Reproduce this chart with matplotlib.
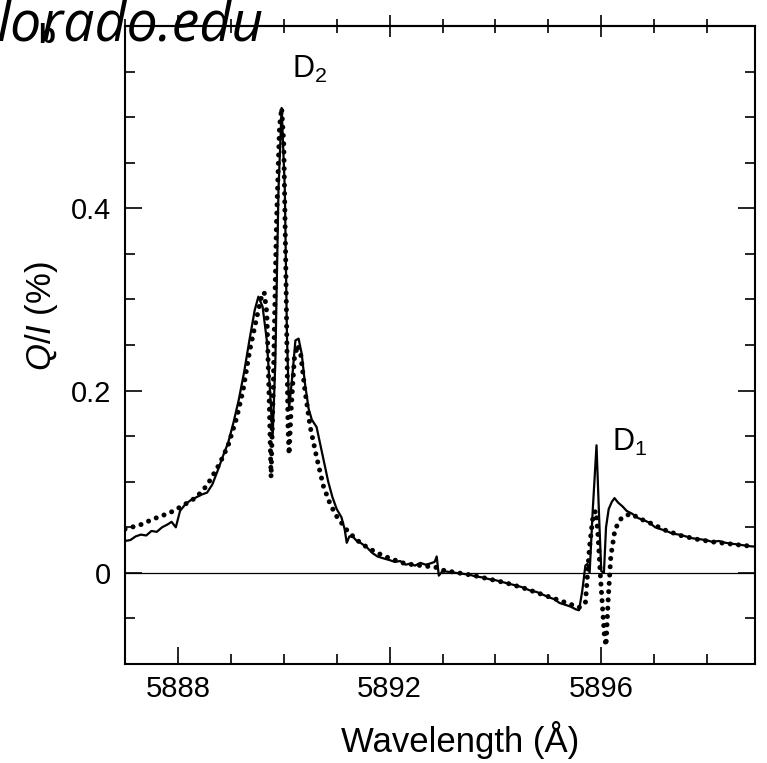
import numpy as np
import matplotlib
matplotlib.use("Agg")
import matplotlib.pyplot as plt

plt.rcParams['font.family'] = ['Liberation Sans', 'DejaVu Sans']
plt.rcParams['mathtext.fontset'] = 'custom'
plt.rcParams['mathtext.rm'] = 'Liberation Sans'
plt.rcParams['mathtext.it'] = 'Liberation Sans:italic'

# observed Q/I (solid)
obs_wl = [5887.00, 5887.10, 5887.20, 5887.30, 5887.40, 5887.50, 5887.60, 5887.70, 5887.80, 5887.88,
          5887.96, 5888.04, 5888.15, 5888.25, 5888.35, 5888.45, 5888.55, 5888.65, 5888.75, 5888.85,
          5888.95, 5889.05, 5889.15, 5889.25, 5889.35, 5889.45, 5889.52, 5889.60, 5889.68, 5889.74,
          5889.79, 5889.84, 5889.90, 5889.96, 5890.02, 5890.06, 5890.10, 5890.16, 5890.22, 5890.28,
          5890.34, 5890.40, 5890.47, 5890.53, 5890.62, 5890.74, 5890.84, 5890.92, 5891.00, 5891.09,
          5891.15, 5891.19, 5891.24, 5891.30, 5891.38, 5891.45, 5891.57, 5891.67, 5891.77, 5891.88,
          5892.00, 5892.10, 5892.20, 5892.30, 5892.38, 5892.48, 5892.58, 5892.68, 5892.75, 5892.85,
          5892.89, 5892.93, 5893.00, 5893.13, 5893.25, 5893.38, 5893.51, 5893.63, 5893.76, 5893.89,
          5894.00, 5894.13, 5894.26, 5894.40, 5894.52, 5894.64, 5894.78, 5894.90, 5895.02, 5895.12,
          5895.21, 5895.32, 5895.42, 5895.52, 5895.58, 5895.64, 5895.70, 5895.74, 5895.78, 5895.84,
          5895.91, 5895.96, 5896.00, 5896.05, 5896.09, 5896.14, 5896.20, 5896.25, 5896.32, 5896.40,
          5896.48, 5896.58, 5896.70, 5896.80, 5896.91, 5897.02, 5897.12, 5897.23, 5897.35, 5897.47,
          5897.60, 5897.72, 5897.85, 5897.98, 5898.10, 5898.22, 5898.35, 5898.47, 5898.60, 5898.72,
          5898.85, 5898.90]
obs_q = [0.035, 0.036, 0.040, 0.042, 0.041, 0.046, 0.045, 0.050, 0.053, 0.056,
         0.050, 0.068, 0.076, 0.080, 0.083, 0.086, 0.088, 0.097, 0.112, 0.128,
         0.143, 0.165, 0.190, 0.220, 0.255, 0.288, 0.303, 0.292, 0.255, 0.200,
         0.150, 0.230, 0.420, 0.510, 0.420, 0.260, 0.180, 0.215, 0.255, 0.257,
         0.240, 0.208, 0.180, 0.168, 0.160, 0.127, 0.100, 0.083, 0.070, 0.061,
         0.048, 0.033, 0.040, 0.040, 0.035, 0.033, 0.028, 0.022, 0.018, 0.016,
         0.014, 0.012, 0.013, 0.009, 0.010, 0.008, 0.011, 0.009, 0.010, 0.012,
         0.018, -0.003, 0.002, 0.001, 0.000, -0.001, -0.002, -0.004, -0.005, -0.007,
         -0.008, -0.010, -0.012, -0.014, -0.016, -0.019, -0.021, -0.024, -0.027, -0.029,
         -0.033, -0.035, -0.037, -0.040, -0.041, -0.020, 0.008, 0.010, 0.000, 0.070,
         0.140, 0.060, 0.002, 0.000, 0.050, 0.070, 0.078, 0.082, 0.077, 0.073,
         0.068, 0.065, 0.060, 0.058, 0.055, 0.050, 0.048, 0.046, 0.043, 0.042,
         0.040, 0.038, 0.037, 0.036, 0.034, 0.035, 0.033, 0.032, 0.031, 0.030,
         0.029, 0.029]

# model Q/I (dotted)
mod_wl = [5887.00, 5887.30, 5887.53, 5887.85, 5888.10, 5888.35, 5888.55, 5888.79, 5888.95, 5889.11,
          5889.23, 5889.36, 5889.50, 5889.58, 5889.63, 5889.68, 5889.72, 5889.76, 5889.80, 5889.86,
          5889.92, 5889.96, 5890.00, 5890.04, 5890.08, 5890.10, 5890.14, 5890.20, 5890.26, 5890.32,
          5890.40, 5890.50, 5890.62, 5890.75, 5890.88, 5891.00, 5891.19, 5891.38, 5891.60, 5891.80,
          5892.00, 5892.30, 5892.60, 5892.88, 5893.00, 5893.30, 5893.60, 5893.90, 5894.20, 5894.50,
          5894.80, 5895.10, 5895.40, 5895.58, 5895.70, 5895.78, 5895.85, 5895.90, 5895.94, 5895.98,
          5896.02, 5896.06, 5896.09, 5896.13, 5896.18, 5896.26, 5896.38, 5896.55, 5896.75, 5896.95,
          5897.20, 5897.50, 5897.80, 5898.10, 5898.40, 5898.70, 5898.90]
mod_q = [0.048, 0.053, 0.059, 0.066, 0.074, 0.083, 0.096, 0.120, 0.140, 0.170,
         0.200, 0.245, 0.283, 0.303, 0.308, 0.285, 0.200, 0.105, 0.200, 0.380,
         0.490, 0.510, 0.470, 0.330, 0.160, 0.130, 0.180, 0.235, 0.250, 0.240,
         0.200, 0.160, 0.127, 0.095, 0.075, 0.062, 0.047, 0.036, 0.027, 0.021,
         0.016, 0.010, 0.008, 0.006, 0.003, 0.000, -0.003, -0.007, -0.011, -0.016,
         -0.022, -0.028, -0.034, -0.038, -0.033, 0.030, 0.065, 0.068, 0.040, 0.000,
         -0.035, -0.070, -0.080, -0.030, 0.018, 0.048, 0.060, 0.065, 0.059, 0.054,
         0.047, 0.041, 0.037, 0.034, 0.032, 0.030, 0.029]

major_x = [5888, 5892, 5896]
major_y = [0, 0.2, 0.4]

fig = plt.figure(figsize=(7.67, 7.63), dpi=100)
ax = fig.add_axes([0.163, 0.1297, 0.821, 0.8363])

ax.axhline(0, color='black', lw=0.9)
ax.plot(obs_wl, obs_q, color='black', lw=1.6)
ax.plot(mod_wl, mod_q, color='black', lw=3.6, linestyle=(0, (0.01, 1.65)),
        dash_capstyle='round')

ax.set_xlim(5887, 5898.9)
ax.set_ylim(-0.1, 0.6)
ax.set_xticks(major_x)
ax.set_xticks(np.arange(5887, 5899), minor=True)
ax.set_yticks(major_y)
ax.set_yticks(np.arange(-0.05, 0.6, 0.05), minor=True)
ax.set_yticklabels(['0', '0.2', '0.4'])

ax.tick_params(which='both', direction='in', top=True, right=True, labelsize=21, width=1.2)
ax.tick_params(axis='x', which='both', pad=8)
ax.tick_params(axis='y', which='both', pad=10)
ax.tick_params(which='major', length=12)
ax.tick_params(which='minor', length=7)
ax.tick_params(axis='x', which='both', top=False)
for sp in ax.spines.values():
    sp.set_linewidth(1.5)

# top ticks crossing the frame
sec = ax.secondary_xaxis('top')
sec.set_xticks(major_x)
sec.set_xticks(np.arange(5887, 5899), minor=True)
sec.tick_params(which='both', direction='inout', labeltop=False, width=1.2)
sec.tick_params(which='major', length=16)
sec.tick_params(which='minor', length=10)
sec.spines['top'].set_linewidth(1.5)

ax.set_xlabel('Wavelength (Å)', fontsize=25)
ax.xaxis.set_label_coords(0.532, -0.090)
ax.text(-0.133, 0.545, '$Q$/$I$ (%)', transform=ax.transAxes, rotation=90,
        ha='center', va='center', fontsize=25)

ax.text(5890.15, 0.552, 'D$_2$', fontsize=22, ha='left', va='center')
ax.text(5896.2, 0.143, 'D$_1$', fontsize=22, ha='left', va='center')

fig.text(47 / 767, 1 - 36 / 763, 'b', fontsize=20, fontweight='bold', ha='center', va='center')
fig.text(-0.004, 1 - 41 / 763, 'lorado.edu', fontsize=40, family=['Open Sans', 'DejaVu Sans'],
         style='italic', ha='left', va='baseline', color='black')

fig.savefig('out.png', dpi=100)
